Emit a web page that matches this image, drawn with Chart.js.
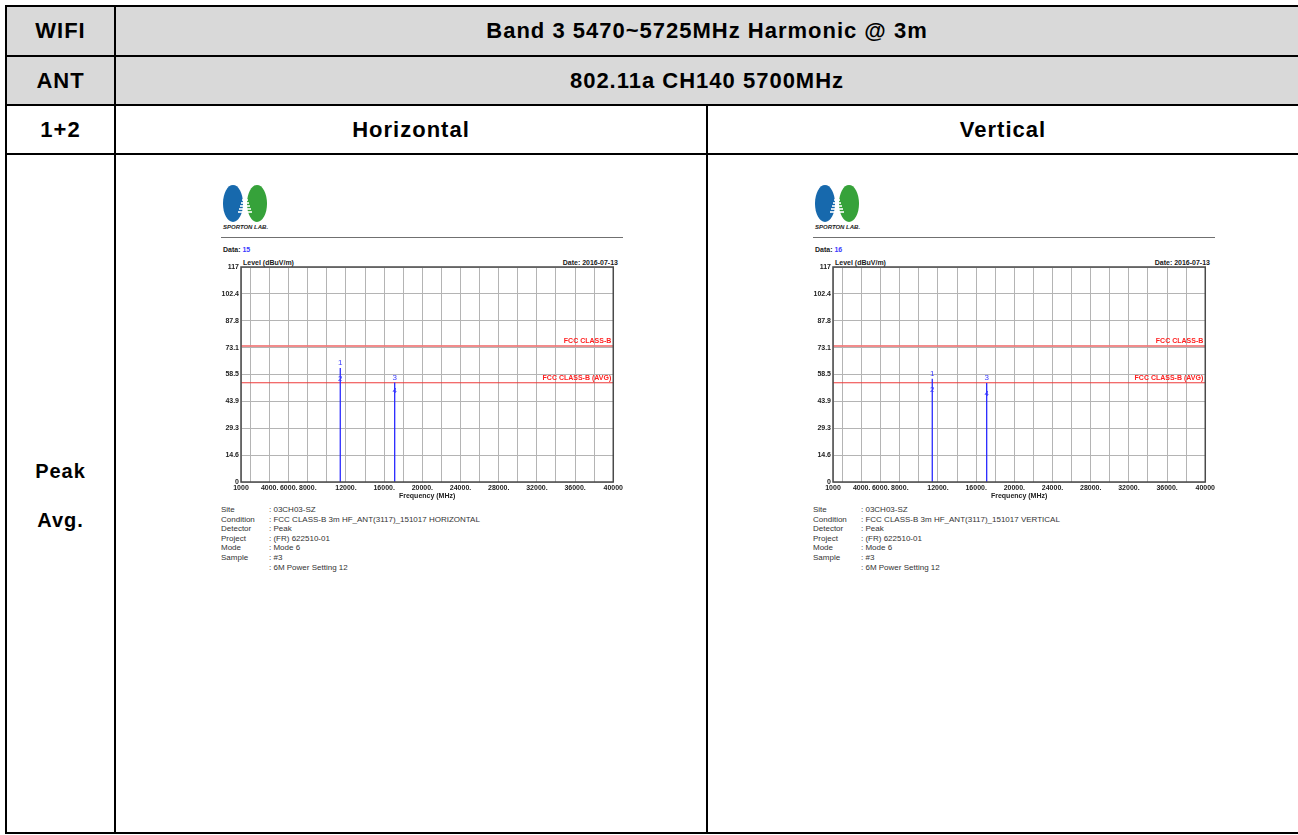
<!DOCTYPE html>
<html>
<head>
<meta charset="utf-8">
<script src="https://cdn.jsdelivr.net/npm/chart.js@4.4.1/dist/chart.umd.min.js"></script>
<style>
    body { margin: 0; background: #fff; font-family: "Liberation Sans", Arial, sans-serif; }
    #page { position: relative; width: 1298px; height: 835px; overflow: hidden; }
    .cell { position: absolute; box-sizing: border-box; border: 2px solid #000;
            display: flex; align-items: center; justify-content: center;
            font-weight: bold; font-size: 22px; letter-spacing: 1px; color: #000; }
    .grey { background: #d9d9d9; }
    .abs { position: absolute; white-space: nowrap; }
    .small { font-size: 7px; font-weight: bold; color: #1a1a1a; }
    .info { font-size: 8px; color: #333; line-height: 9.6px; }
</style>
</head>
<body>
<div id="page"></div>
<script>
// frequency axis (MHz)
const xMin = 1000;
const xMax = 40000;
const xGridValues = [1000, 2000, 4000, 6000, 8000, 10000, 12000, 14000, 16000, 18000, 20000,
    22000, 24000, 26000, 28000, 30000, 32000, 34000, 36000, 38000, 40000];
const xTickValues = [1000, 4000, 6000, 8000, 12000, 16000, 20000, 24000, 28000, 32000, 36000, 40000];
const xTickLabels = ['1000', '4000.', '6000.', '8000.', '12000.', '16000.', '20000.', '24000.',
    '28000.', '32000.', '36000.', '40000'];

// level axis (dBuV/m)
const yTickValues = [0, 14.6, 29.3, 43.9, 58.5, 73.1, 87.8, 102.4, 117];
const yTickLabels = ['0', '14.6', '29.3', '43.9', '58.5', '73.1', '87.8', '102.4', '117'];

// limits
const peakLimit = 74;
const avgLimit = 54;

// harmonics of 5700MHz, markers 1/3 = peak, 2/4 = avg
const harmonicFreqs = [11400, 17100];
const horizontalPeak = [62.0, 54.2];
const horizontalAvg = [53.2, 46.8];
const verticalPeak = [56.2, 53.9];
const verticalAvg = [47.7, 45.5];

const page = document.getElementById('page');

function addCell(x1, y1, x2, y2, html, grey) {
    const d = document.createElement('div');
    d.className = 'cell' + (grey ? ' grey' : '');
    d.style.left = x1 + 'px';
    d.style.top = y1 + 'px';
    d.style.width = (x2 - x1) + 'px';
    d.style.height = (y2 - y1) + 'px';
    d.innerHTML = html;
    page.appendChild(d);
    return d;
}

function addText(x, y, html, cls, extra) {
    const d = document.createElement('div');
    d.className = 'abs ' + cls;
    d.style.left = x + 'px';
    d.style.top = y + 'px';
    if (extra) Object.assign(d.style, extra);
    d.innerHTML = html;
    page.appendChild(d);
    return d;
}

// table
addCell(5, 5, 116, 57, 'WIFI', true);
addCell(114, 5, 1300, 57, 'Band 3 5470~5725MHz Harmonic @ 3m', true);
addCell(5, 55, 116, 106, 'ANT', true);
addCell(114, 55, 1300, 106, '802.11a CH140 5700MHz', true);
addCell(5, 104, 116, 155, '1+2');
addCell(114, 104, 708, 155, 'Horizontal');
addCell(706, 104, 1300, 155, 'Vertical');
addCell(5, 153, 116, 834, '<div style="text-align:center;line-height:49px;margin-top:4px;font-size:20px">Peak<br>Avg.</div>');
addCell(114, 153, 708, 834, '');
addCell(706, 153, 1300, 834, '');

// plugin: frame, limit labels, marker numbers
const reportPlugin = {
    id: 'report',
    afterDatasetsDraw(chart, args, opts) {
        const { ctx, chartArea, scales } = chart;
        const x = scales.x, y = scales.y;
        ctx.save();

        // limit line labels
        ctx.font = 'bold 7px "Liberation Sans", Arial, sans-serif';
        ctx.fillStyle = '#ff2020';
        ctx.textAlign = 'right';
        ctx.textBaseline = 'middle';
        ctx.fillText('FCC CLASS-B', chartArea.right - 2, y.getPixelForValue(peakLimit) - 4.5);
        ctx.fillText('FCC CLASS-B (AVG)', chartArea.right - 2, y.getPixelForValue(avgLimit) - 4.5);

        // marker numbers
        ctx.font = '8px "Liberation Sans", Arial, sans-serif';
        ctx.fillStyle = '#3a3aff';
        ctx.textAlign = 'center';
        harmonicFreqs.forEach((f, i) => {
            const px = x.getPixelForValue(f);
            ctx.fillText(String(i * 2 + 1), px, y.getPixelForValue(opts.peak[i]) - 5);
            ctx.fillText(String(i * 2 + 2), px, y.getPixelForValue(opts.avg[i]) - 5);
        });

        // plot frame
        ctx.strokeStyle = '#4a4a4a';
        ctx.lineWidth = 1.5;
        ctx.strokeRect(chartArea.left, chartArea.top, chartArea.right - chartArea.left, chartArea.bottom - chartArea.top);
        ctx.restore();
    }
};

function buildPanel(ox, dataNo, polarization, peak, avg) {
    // logo
    addText(ox + 8, 185, '', '', { width: '20px', height: '37px', borderRadius: '50%', background: '#1769ad' });
    addText(ox + 32, 185, '', '', { width: '20px', height: '37px', borderRadius: '50%', background: '#36a23a' });
    [0, 3, 6, 9, 12].forEach((dy, i) => {
        const w = 6 + i * 2;
        addText(ox + 30 - w / 2, 199 + dy, '', '', { width: w + 'px', height: '1.5px', background: 'rgba(255,255,255,0.8)' });
    });
    addText(ox + 8, 224, 'SPORTON LAB.', '', { fontSize: '6px', fontWeight: 'bold', fontStyle: 'italic', color: '#1a1a1a' });
    addText(ox + 6, 237, '', '', { width: '402px', height: '1px', background: '#707070' });

    addText(ox + 8, 246, 'Data: <span style="color:#3a3aff">' + dataNo + '</span>', 'small');
    addText(ox + 28, 259, 'Level (dBuV/m)', 'small');
    addText(ox + 330, 259, 'Date: 2016-07-13', 'small', { width: '73px', textAlign: 'right' });

    const canvas = document.createElement('canvas');
    canvas.width = 410;
    canvas.height = 250;
    canvas.style.position = 'absolute';
    canvas.style.left = ox + 'px';
    canvas.style.top = '255px';
    page.appendChild(canvas);

    const datasets = [];
    // spikes from 0 up to the peak reading
    harmonicFreqs.forEach((f, i) => {
        datasets.push({
            data: [{ x: f, y: 0 }, { x: f, y: peak[i] }],
            borderColor: '#2a2aff',
            borderWidth: 1.3,
            pointRadius: 0
        });
    });
    datasets.push({
        data: [{ x: xMin, y: peakLimit }, { x: xMax, y: peakLimit }],
        borderColor: 'rgba(240, 120, 120, 0.85)',
        borderWidth: 2,
        pointRadius: 0
    });
    datasets.push({
        data: [{ x: xMin, y: avgLimit }, { x: xMax, y: avgLimit }],
        borderColor: '#ee3b3b',
        borderWidth: 1.2,
        pointRadius: 0
    });

    const tickFont = { family: '"Liberation Sans", Arial, sans-serif', size: 7, weight: 'bold' };

    new Chart(canvas.getContext('2d'), {
        type: 'line',
        data: { datasets },
        options: {
            responsive: false,
            animation: false,
            devicePixelRatio: 1,
            layout: { padding: { left: 0, top: 12, right: 11, bottom: 0 } },
            plugins: {
                legend: { display: false },
                tooltip: { enabled: false },
                report: { peak, avg }
            },
            scales: {
                x: {
                    type: 'linear',
                    min: xMin,
                    max: xMax,
                    afterBuildTicks: (scale) => { scale.ticks = xGridValues.map(v => ({ value: v })); },
                    afterFit: (scale) => { scale.height = 23; },
                    grid: { color: '#b4b4b4', lineWidth: 1, drawTicks: false },
                    border: { display: false },
                    ticks: {
                        autoSkip: false,
                        maxRotation: 0,
                        padding: 2,
                        color: '#222',
                        font: tickFont,
                        callback: (value) => {
                            const i = xTickValues.indexOf(value);
                            return i >= 0 ? xTickLabels[i] : '';
                        }
                    },
                    title: {
                        display: true,
                        text: 'Frequency (MHz)',
                        color: '#222',
                        font: tickFont,
                        padding: { top: 0, bottom: 5 }
                    }
                },
                y: {
                    type: 'linear',
                    min: 0,
                    max: 117,
                    afterBuildTicks: (scale) => { scale.ticks = yTickValues.map(v => ({ value: v })); },
                    afterFit: (scale) => { scale.width = 26; },
                    grid: { color: '#b4b4b4', lineWidth: 1, drawTicks: false },
                    border: { display: false },
                    ticks: {
                        padding: 2,
                        color: '#222',
                        font: tickFont,
                        callback: (value, index) => yTickLabels[index]
                    }
                }
            }
        },
        plugins: [reportPlugin]
    });

    const info = [
        ['Site', ': 03CH03-SZ'],
        ['Condition', ': FCC CLASS-B 3m HF_ANT(3117)_151017 ' + polarization],
        ['Detector', ': Peak'],
        ['Project', ': (FR) 622510-01'],
        ['Mode', ': Mode 6'],
        ['Sample', ': #3'],
        ['', ': 6M Power Setting 12']
    ];
    addText(ox + 6, 505, info.map(r => r[0] || '&nbsp;').join('<br>'), 'info');
    addText(ox + 54, 505, info.map(r => r[1]).join('<br>'), 'info');
}

buildPanel(215, 15, 'HORIZONTAL', horizontalPeak, horizontalAvg);
buildPanel(807, 16, 'VERTICAL', verticalPeak, verticalAvg);
</script>
</body>
</html>
